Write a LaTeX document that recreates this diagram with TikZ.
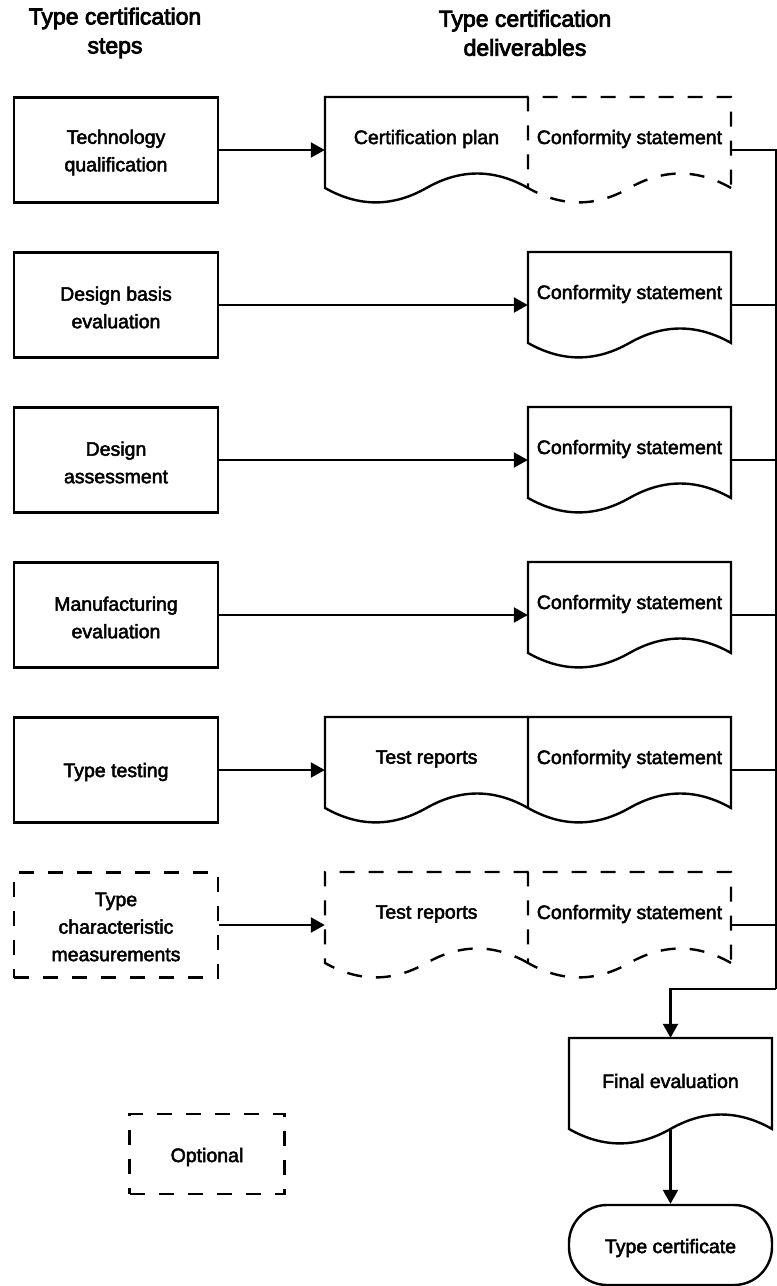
\documentclass[tikz,border=0pt]{standalone}
\usepackage{fontspec}
\setmainfont{Liberation Sans}
\font\labfnt="Liberation Sans:embolden=2.5" at 19.5bp
\font\titfnt="Liberation Sans:embolden=3.5" at 23bp
\usetikzlibrary{arrows.meta}
\tikzset{
  ln/.style={line width=2.4bp, line join=miter},
  dsh/.style={dash pattern=on 15bp off 14bp},
  arr/.style={ln, -{Triangle[length=14bp,width=15bp]}},
  stepbox/.style={ln, draw, fill=white, minimum width=204bp, minimum height=105bp, inner sep=0pt},
  lab/.style={inner sep=0pt, align=center, font={\labfnt\baselineskip=27.5bp}},
  tit/.style={inner sep=0pt, align=center, font={\titfnt\baselineskip=29bp}},
  docarea/.style={minimum width=203bp, minimum height=106bp, inner sep=0pt, draw=none},
}
% #1 style, #2 x0, #3 y0, #4 closing
\newcommand\docpath[4]{\draw[#1,shift={(#2,#3)}] (203,90.95) .. controls (169.17,71.69) and (135.33,71.69) .. (101.5,90.95) .. controls (67.67,110.21) and (33.83,110.21) .. (0,90.95) -- (0,0) -- (203,0) #4;}
\begin{document}
\begin{tikzpicture}[x=1bp,y=-1bp]
\useasboundingbox (0,0) rectangle (777,1286);
\fill[white] (0,0) rectangle (777,1286);
% titles
\node[tit] (t1) at (115,33) {Type certification\\steps};
\node[tit] (t2) at (525,33) {Type certification\\deliverables};
% left step boxes
\node[stepbox] (s1) at (116,150) {};
\node[stepbox] (s2) at (116,305) {};
\node[stepbox] (s3) at (116,460) {};
\node[stepbox] (s4) at (116,615) {};
\node[stepbox] (s5) at (116,770) {};
\node[stepbox,dsh] (s6) at (116,925) {};
\node[lab] (s1t) at (116,152.5) {Technology\\qualification};
\node[lab] (s2t) at (116,307.5) {Design basis\\evaluation};
\node[lab] (s3t) at (116,462.5) {Design\\assessment};
\node[lab] (s4t) at (116,617.5) {Manufacturing\\evaluation};
\node[lab] (s5t) at (116,772) {Type testing};
\node[lab] (s6t) at (116,927) {Type\\characteristic\\measurements};
% row 1
\docpath{ln,fill=white}{325}{97}{}
\docpath{ln,dsh,fill=white}{528}{97}{-- cycle}
\node[docarea] (d1a) at (426.5,150) {};
\node[docarea] (d1b) at (629.5,150) {};
\node[lab] (d1at) at (426.5,139) {Certification plan};
\node[lab] (d1bt) at (629.5,139) {Conformity statement};
% row 2
\docpath{ln,fill=white}{528}{252}{-- cycle}
\node[docarea] (d2b) at (629.5,305) {};
\node[lab] (d2bt) at (629.5,294) {Conformity statement};
% row 3
\docpath{ln,fill=white}{528}{407}{-- cycle}
\node[docarea] (d3b) at (629.5,460) {};
\node[lab] (d3bt) at (629.5,449) {Conformity statement};
% row 4
\docpath{ln,fill=white}{528}{562}{-- cycle}
\node[docarea] (d4b) at (629.5,615) {};
\node[lab] (d4bt) at (629.5,604) {Conformity statement};
% row 5
\docpath{ln,fill=white}{325}{717}{}
\docpath{ln,fill=white}{528}{717}{-- cycle}
\node[docarea] (d5a) at (426.5,770) {};
\node[docarea] (d5b) at (629.5,770) {};
\node[lab] (d5at) at (426.5,759) {Test reports};
\node[lab] (d5bt) at (629.5,759) {Conformity statement};
% row 6
\docpath{ln,dsh,fill=white}{325}{872}{}
\docpath{ln,dsh,fill=white}{528}{872}{-- cycle}
\node[docarea] (d6a) at (426.5,925) {};
\node[docarea] (d6b) at (629.5,925) {};
\node[lab] (d6at) at (426.5,914) {Test reports};
\node[lab] (d6bt) at (629.5,914) {Conformity statement};
% final evaluation
\docpath{ln,fill=white}{569}{1038}{-- cycle}
\node[docarea] (fe) at (670.5,1091) {};
\node[lab] (fet) at (670.5,1081) {Final evaluation};
\coordinate (feb) at (670.5,1129);
% type certificate
\node[ln, draw, rounded corners=38bp, minimum width=203bp, minimum height=80bp, inner sep=0pt] (tc) at (670.5,1245) {};
\node[lab] (tct) at (670.5,1248) {Type certificate};
% optional legend
\node[stepbox,dsh,minimum width=155bp,minimum height=80bp] (opt) at (207,1154) {};
\node[lab] (optt) at (207,1157) {Optional};
% step arrows
\draw[arr] (s1.east) -- (d1a.west);
\draw[arr] (s2.east) -- (d2b.west);
\draw[arr] (s3.east) -- (d3b.west);
\draw[arr] (s4.east) -- (d4b.west);
\draw[arr] (s5.east) -- (d5a.west);
\draw[arr] (s6.east) -- (d6a.west);
% collector
\coordinate (j) at (776,989);
\foreach \d in {d1b,d2b,d3b,d4b,d5b,d6b} {\draw[ln] (\d.east) -| (j);}
\draw[arr] (j) -| (fe.north);
\draw[arr] (feb) -- (tc.north);
\end{tikzpicture}
\end{document}
